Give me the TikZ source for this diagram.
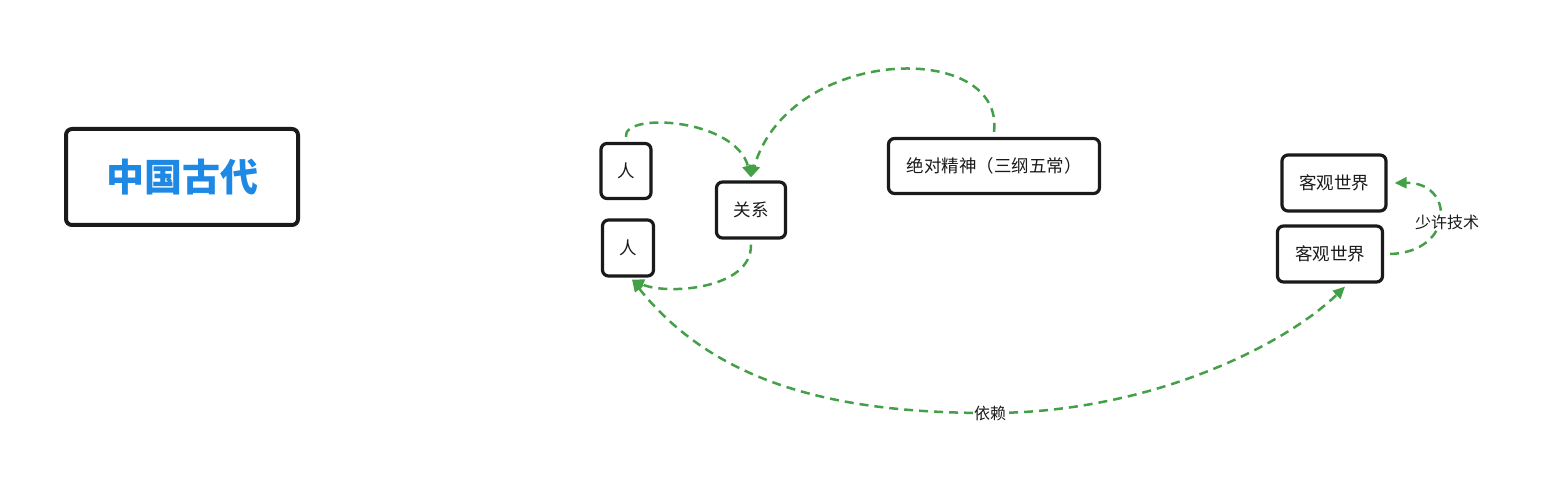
\documentclass[tikz,border=0pt]{standalone}
\usepackage{fontspec}
\setmainfont{Noto Sans CJK SC}
\usetikzlibrary{arrows.meta}
\definecolor{edgegreen}{HTML}{43A047}
\definecolor{titleblue}{HTML}{1E88E5}
\definecolor{ink}{HTML}{1A1A1A}
\begin{document}
\begin{tikzpicture}[x=1pt,y=-1pt,
  box/.style={draw=ink,line width=3.2pt,rounded corners=6pt,fill=white,inner sep=0pt,
    font=\fontsize{17.5}{20}\selectfont,text=ink},
  link/.style={draw=edgegreen,line width=2.5pt,dash pattern=on 9pt off 6pt},
  arr/.tip={Triangle[length=12pt,width=11pt]},
  tip/.style={-arr},
  lab/.style={fill=white,inner sep=1pt,font=\fontsize{16}{18}\selectfont,text=ink}]
\useasboundingbox (0,0) rectangle (1545,489);
\node[box,line width=4pt,minimum width=232pt,minimum height=96pt,
  font=\fontsize{38}{42}\selectfont\bfseries,text=titleblue] (title) at (182,177) {中国古代};
\node[box,minimum width=50pt,minimum height=55pt] (ren1) at (626,171) {人};
\node[box,minimum width=51pt,minimum height=56pt] (ren2) at (628,248) {人};
\node[box,minimum width=69pt,minimum height=56pt] (guanxi) at (751,210) {关系};
\node[box,minimum width=211pt,minimum height=55pt] (jingshen) at (994,166) {绝对精神（三纲五常）};
\node[box,minimum width=104pt,minimum height=56pt] (world1) at (1334,183) {客观世界};
\node[box,minimum width=105pt,minimum height=56pt] (world2) at (1330,254) {客观世界};
\coordinate (relin) at ([yshift=3pt]guanxi.north);
\draw[link,tip] ([yshift=5pt]ren1.north) .. controls (622,112) and (735,118) .. (relin);
\draw[link,tip] ([yshift=5pt]jingshen.north) .. controls (1005,40) and (790,45) .. (relin);
\draw[link,tip] ([yshift=-5pt]guanxi.south) .. controls (752,290) and (665,295) .. ([xshift=4pt,yshift=-2pt]ren2.south);
\coordinate (mid) at (990,413);
\draw[link,arr-arr]
  ([xshift=4pt,yshift=-2pt]ren2.south) .. controls (720,390) and (850,413) .. (mid)
  .. controls (1150,413) and (1285,345) .. ([xshift=15pt,yshift=-3pt]world2.south);
\node[lab] (yilai) at (mid) {依赖};
\draw[link,tip] ([xshift=6pt]world2.east) .. controls (1455,252) and (1455,182) .. ([xshift=7pt]world1.east);
\node[lab] (jishu) at (1447,222) {少许技术};
\end{tikzpicture}
\end{document}
